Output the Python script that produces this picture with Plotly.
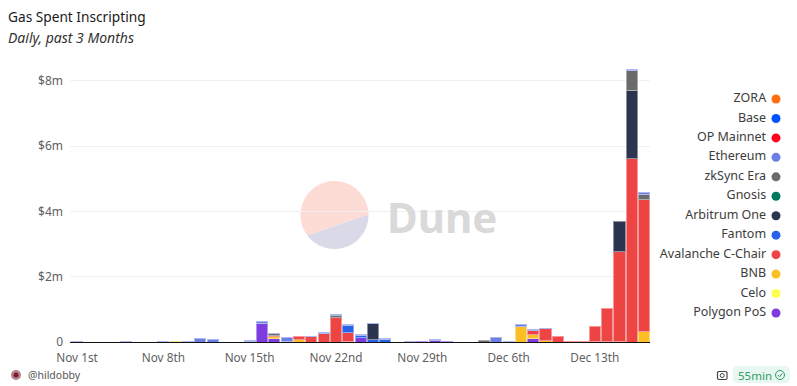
import math
import pandas as pd
import plotly.graph_objects as go

dates = pd.date_range("2023-11-01", "2023-12-17", freq="D").strftime("%Y-%m-%d").tolist()

# Values in $ millions; one entry per day, Nov 1st -> Dec 17th
polygon = [0,0,0,0,0,0,0,0,0,0,0,0,0,0,0.02,0.57,0.11,0,0,0,0,0,0.03,0.15,0,0,0,0.01,0.02,0.06,
           0.01,0,0,0,0,0.01,0,0.12,0,0,0,0.02,0.01,0.01,0.01,0,0]
celo = [0]*47
bnb = [0,0,0,0,0,0,0,0,0.01,0,0,0,0,0,0,0,0.07,0.03,0.09,0,0,0,0,0,0,0,0,0,0,0,
       0,0,0,0,0,0,0.49,0.12,0.05,0,0,0,0,0,0,0,0.33]
avalanche = [0,0,0,0,0,0,0,0,0,0,0,0,0,0,0,0,0.02,0,0.08,0.17,0.27,0.75,0.27,0,0,0,0,0,0,0,
             0,0,0,0,0,0,0,0.12,0.35,0.16,0.01,0.01,0.47,1.03,2.76,5.63,4.03]
fantom = [0,0,0,0,0,0,0,0,0,0,0,0,0,0,0,0,0,0,0,0,0,0,0.2,0.05,0.07,0.08,0,0,0,0,
          0,0,0,0,0,0,0,0,0,0,0,0,0,0,0,0,0]
arbitrum = [0,0,0,0,0,0,0,0,0,0,0,0,0,0,0,0,0,0,0,0,0,0,0,0,0.5,0,0,0,0,0,
            0,0,0,0,0,0,0,0,0,0,0,0,0,0,0.91,2.09,0]
gnosis = [0]*47
zksync = [0,0,0,0,0,0,0,0.01,0,0,0,0,0,0,0,0,0.05,0,0,0,0,0.07,0,0,0,0,0,0,0,0,
          0,0,0,0.04,0,0,0,0,0,0,0,0,0,0,0,0.61,0.17]
ethereum = [0.01,0,0,0,0.01,0,0,0.01,0,0.01,0.1,0.07,0,0,0.02,0.05,0.02,0.12,0,0.01,0.01,0.01,0.03,0.02,0.01,0.02,0,0.01,0,0.01,
            0,0,0,0,0.13,0.02,0.05,0.01,0.02,0,0,0,0,0,0,0.03,0.06]
op_mainnet = [0]*47
base = [0]*47
zora = [0]*47

series_names = ["Polygon PoS","Celo","BNB","Avalanche C-Chair","Fantom","Arbitrum One",
                "Gnosis","zkSync Era","Ethereum","OP Mainnet","Base","ZORA"]
series_values = [polygon,celo,bnb,avalanche,fantom,arbitrum,gnosis,zksync,ethereum,op_mainnet,base,zora]
series_colors = ["#7E3BE0","#FCFF52","#FBBF24","#EF4444","#2563EB","#2D3450",
                 "#04795B","#6A6A6A","#6B7FE3","#FF0420","#0052FF","#FF6F0F"]

y_tick_vals = [0,2,4,6,8]
y_tick_text = ["0","$2m","$4m","$6m","$8m"]
x_tick_vals = ["2023-11-01","2023-11-08","2023-11-15","2023-11-22","2023-11-29","2023-12-06","2023-12-13"]
x_tick_text = ["Nov 1st","Nov 8th","Nov 15th","Nov 22nd","Nov 29th","Dec 6th","Dec 13th"]

W, H = 797, 386
FONT = "Noto Sans"
px = lambda v: v / W
py = lambda v: 1 - v / H

def tint(hex_color, amount=0.45):
    rgb = [int(hex_color[i:i+2], 16) for i in (1, 3, 5)]
    mixed = [round(c + (255 - c) * amount) for c in rgb]
    return "rgb({},{},{})".format(*mixed)

fig = go.Figure()
for name, vals, col in zip(series_names, series_values, series_colors):
    fig.add_bar(x=dates, y=[v if v else None for v in vals], name=name, marker=dict(color=col,
                line=dict(color=tint(col), width=1)), showlegend=False)

# Legend as a marker column on its own hidden axes
order = series_names[::-1]
fig.add_scatter(x=[0.5]*12, y=order, xaxis="x2", yaxis="y2", mode="markers+text",
                text=[t + " " for t in order], textposition="middle left", cliponaxis=False,
                textfont=dict(size=12.5, color="#3c3c3c", family=FONT),
                marker=dict(size=9, color=series_colors[::-1]), showlegend=False, hoverinfo="skip")

shapes = []
# watermark
cx, cy, r = 334.5, 215, 34
a_left = math.atan2(235.5 - cy, 307.5 - cx)
a_right = math.atan2(214.6 - cy, 368.5 - cx)
def arc(start, end, n=60):
    return [(cx + r * math.cos(start + (end - start) * i / n),
             cy + r * math.sin(start + (end - start) * i / n)) for i in range(n + 1)]
def path(points):
    return "M " + " L ".join(f"{px(x):.5f},{py(y):.5f}" for x, y in points) + " Z"
shapes.append(dict(type="path", xref="paper", yref="paper", layer="below", line_width=0,
                   fillcolor="#FDDCD5", path=path(arc(a_left, a_right + 2 * math.pi))))
shapes.append(dict(type="path", xref="paper", yref="paper", layer="below", line_width=0,
                   fillcolor="#D9D9E8", path=path(arc(a_right, a_left))))
# footer: avatar, camera, badge
def circle(x, y, rad, **kw):
    return dict(type="circle", xref="paper", yref="paper", x0=px(x-rad), x1=px(x+rad),
                y0=py(y+rad), y1=py(y-rad), **kw)
def rounded(x0, y0, x1, y1, rad):
    pts = []
    for (ax, ay, start) in [(x1-rad, y0+rad, -90), (x1-rad, y1-rad, 0), (x0+rad, y1-rad, 90), (x0+rad, y0+rad, 180)]:
        for i in range(7):
            a = math.radians(start + 15 * i)
            pts.append((ax + rad * math.cos(a), ay + rad * math.sin(a)))
    return path(pts)
shapes.append(circle(16, 375, 5, fillcolor="#B5838D", line_width=0))
shapes.append(circle(16, 375, 2.5, fillcolor="#7A1F2B", line_width=0))
shapes.append(dict(type="path", xref="paper", yref="paper", fillcolor="rgba(0,0,0,0)",
                   line=dict(color="#444", width=1.2), path=rounded(717.5, 371.5, 727, 379.5, 1.5)))
shapes.append(circle(722.2, 375.5, 2, fillcolor="rgba(0,0,0,0)", line=dict(color="#444", width=1)))
shapes.append(dict(type="path", xref="paper", yref="paper", fillcolor="#E8F7EF", line_width=0,
                   path=rounded(733, 366, 790, 383, 4)))
shapes.append(circle(780, 375, 4.5, fillcolor="rgba(0,0,0,0)", line=dict(color="#2E9E6B", width=1)))
shapes.append(dict(type="path", xref="paper", yref="paper", line=dict(color="#2E9E6B", width=1),
                   path=f"M {px(777.8):.5f},{py(375):.5f} L {px(779.5):.5f},{py(376.8):.5f} L {px(782.3):.5f},{py(373.4):.5f}"))

def note(text, x, y, size, color, anchor="left", **kw):
    return dict(text=text, xref="paper", yref="paper", x=px(x), y=py(y), xanchor=anchor,
                yanchor="middle", showarrow=False, font=dict(size=size, color=color, family=FONT, **kw))

annotations = [
    note("Gas Spent Inscripting", 5.5, 16, 13.7, "#1a1a1a"),
    note("<i>Daily, past 3 Months</i>", 5.5, 37, 14, "#333333"),
    note("<b>Dune</b>", 385, 216, 42, "#D9D9D9"),
    note("@hildobby", 26, 375, 10.5, "#555555"),
    note("55min", 736, 375, 11.5, "#2E9E6B"),
]

fig.update_layout(
    width=W, height=H, margin=dict(l=0, r=0, t=0, b=0), autosize=False,
    paper_bgcolor="white", plot_bgcolor="rgba(0,0,0,0)",
    barmode="stack", bargap=0.1, showlegend=False, shapes=shapes, annotations=annotations,
    font=dict(family=FONT, color="#5f5f5f", size=12),
    xaxis=dict(domain=[px(70), px(650)], type="date", automargin=False,
               range=["2023-10-31 10:20", "2023-12-17 11:20"],
               tickmode="array", tickvals=x_tick_vals, ticktext=x_tick_text, ticklabelstandoff=5,
               showgrid=False, showline=True, linecolor="#111111", linewidth=1,
               ticks="", zeroline=False, tickfont=dict(size=11.8, color="#5f5f5f")),
    yaxis=dict(domain=[py(342), py(65)], range=[0, 8.49], automargin=False,
               tickmode="array", tickvals=y_tick_vals, ticktext=y_tick_text, ticklabelstandoff=6,
               showgrid=True, gridcolor="#F0F0F0", gridwidth=1, zeroline=False,
               ticks="", showline=False, tickfont=dict(size=12, color="#5f5f5f")),
    xaxis2=dict(domain=[px(770), px(782)], range=[0, 1], anchor="y2", visible=False, automargin=False),
    yaxis2=dict(domain=[py(322.7), py(89.3)], type="category", categoryorder="array", automargin=False,
                categoryarray=order, range=[11.5, -0.5], anchor="x2", visible=False),
)

fig.write_html("out.html", config=dict(displayModeBar=False),
               post_script="document.body.style.margin='0';document.body.style.overflow='hidden';")
